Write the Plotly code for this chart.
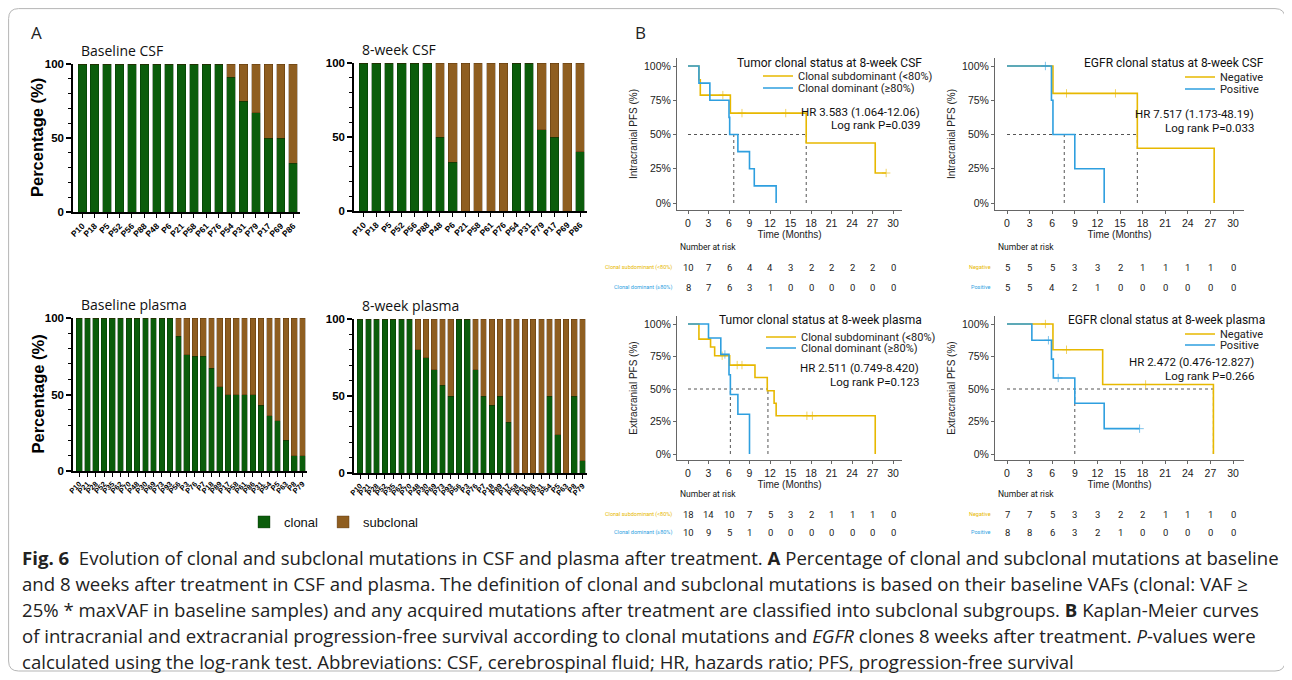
import plotly.graph_objects as go

W, H = 1292, 680
OFF = 8  # the page body margin shifts the figure by 8 px; coordinates below are screen pixels
def X(p): return (p - OFF) / W
def Y(p): return 1 - (p - OFF) / H

GREEN = "#0b5d0b"; BROWN = "#8f5e20"; GOLD = "#E7B800"; BLUE = "#2E9FDF"
NARROW = "Liberation Sans Narrow, Arial Narrow, Roboto, sans-serif"
SANS = "Liberation Sans, Arial, sans-serif"
CAP = "Open Sans, Noto Sans, sans-serif"

# ---------------- Panel A data ----------------
csf_patients = ["P10","P18","P5","P52","P56","P88","P48","P6","P21","P58","P61","P76","P54","P31","P79","P17","P69","P86"]
csf_base_clonal    = [100,100,100,100,100,100,100,100,100,100,100,100,91,75,67,50,50,33]
csf_base_subclonal = [0,0,0,0,0,0,0,0,0,0,0,0,9,25,33,50,50,67]
csf_wk8_clonal     = [100,100,100,100,100,100,50,33,0,0,0,0,100,100,55,50,0,40]
csf_wk8_subclonal  = [0,0,0,0,0,0,50,67,100,100,100,100,0,0,45,50,100,60]

plasma_patients = ["P10","P21","P28","P52","P35","P62","P70","P48","P30","P69","P73","P93","P56","P3",
                   "P76","P7","P18","P89","P17","P58","P61","P86","P31","P54","P5","P63","P8","P79"]
plasma_base_clonal    = [100,100,100,100,100,100,100,100,100,100,100,100,88,76,75,75,67,55,50,50,50,50,43,36,33,20,10,10]
plasma_base_subclonal = [0,0,0,0,0,0,0,0,0,0,0,0,12,24,25,25,33,45,50,50,50,50,57,64,67,80,90,90]
plasma_wk8_clonal     = [100,100,100,100,100,100,100,80,75,67,57,50,100,100,67,50,44,50,33,0,0,0,0,50,25,0,50,8]
plasma_wk8_subclonal  = [0,0,0,0,0,0,0,20,25,33,43,50,0,0,33,50,56,50,67,100,100,100,100,50,75,100,50,92]

# ---------------- Panel B data (step points) ----------------
km_ticks = [0,3,6,9,12,15,18,21,24,27,30]

# Top-left: tumor clonal status at 8-week CSF (intracranial)
tl_sub_t = [0,1.6,1.8,6.2,17.3,27.4,29.0]
tl_sub_s = [100,90,78.75,65.6,43.75,21.9,21.9]
tl_sub_ct = [5.1,7.9,14.3,29.0]; tl_sub_cs = [78.75,65.6,65.6,21.9]
tl_dom_t = [0,1.6,3.2,6.0,6.1,7.3,9.0,9.7,12.9]
tl_dom_s = [100,87.5,75,62.5,50,37.5,25,12.5,0]
tl_dom_ct = []; tl_dom_cs = []
tl_median = [6.7,17.3]
tl_risk_sub = [10,7,6,4,4,3,2,2,2,2,0]
tl_risk_dom = [8,7,6,3,1,0,0,0,0,0,0]

# Top-right: EGFR clonal status at 8-week CSF (intracranial)
tr_neg_t = [0,6.1,17.3,27.5]
tr_neg_s = [100,80,40,0]
tr_neg_ct = [7.9,14.4]; tr_neg_cs = [80,80]
tr_pos_t = [0,5.9,6.1,9.0,12.9]
tr_pos_s = [100,75,50,25,0]
tr_pos_ct = [5.1]; tr_pos_cs = [100]
tr_median = [7.6,17.3]
tr_risk_neg = [5,5,5,3,3,2,1,1,1,1,0]
tr_risk_pos = [5,5,4,2,1,0,0,0,0,0,0]

# Bottom-left: tumor clonal status at 8-week plasma (extracranial)
bl_sub_t = [0,1.6,3.3,3.9,6.1,9.8,11.6,12.6,12.9,27.4]
bl_sub_s = [100,88.4,82.3,75.6,68.4,58.8,48.6,39.0,29.4,0]
bl_sub_ct = [5.0,7.2,7.9,17.4,18.2]; bl_sub_cs = [75.6,68.4,68.4,29.4,29.4]
bl_dom_t = [0,3.0,4.8,6.0,6.2,7.3,9.0]
bl_dom_s = [100,89.2,76.6,61.0,45.8,30.6,0]
bl_dom_ct = [5.4]; bl_dom_cs = [76.6]
bl_median = [6.2,11.7]
bl_risk_sub = [18,14,10,7,5,3,2,1,1,1,0]
bl_risk_dom = [10,9,5,1,0,0,0,0,0,0,0]

# Bottom-right: EGFR clonal status at 8-week plasma (extracranial)
br_neg_t = [0,6.1,12.7,27.4]
br_neg_s = [100,80.2,53.5,0]
br_neg_ct = [5.1,7.9,18.4]; br_neg_cs = [100,80.2,53.5]
br_pos_t = [0,3.3,5.9,6.15,9.0,12.9,17.6]
br_pos_s = [100,87.5,73.0,58.5,39.0,19.5,19.5]
br_pos_ct = [5.5,6.8,17.6]; br_pos_cs = [87.5,58.5,19.5]
br_median = [9.0,27.4]
br_risk_neg = [7,7,5,3,3,2,2,1,1,1,0]
br_risk_pos = [8,8,6,3,2,1,0,0,0,0,0]

fig = go.Figure()
annotations = []

def note(text, x, y, size, color="#111", family=SANS, xanchor="center", yanchor="middle", xref="paper", **kw):
    annotations.append(dict(text=text, x=x, y=y, xref=xref, yref="paper", xanchor=xanchor, yanchor=yanchor,
                            showarrow=False, font=dict(family=family, size=size, color=color, **kw)))

# ---------------- Panel A bar charts ----------------
bar_panels = [
    (1, csf_patients, csf_base_clonal, csf_base_subclonal, 73, 300, 64, 212, "Baseline CSF", True),
    (2, csf_patients, csf_wk8_clonal, csf_wk8_subclonal, 354, 587, 63, 211, "8-week CSF", False),
    (3, plasma_patients, plasma_base_clonal, plasma_base_subclonal, 73, 307, 318, 471, "Baseline plasma", True),
    (4, plasma_patients, plasma_wk8_clonal, plasma_wk8_subclonal, 354, 587, 319, 473, "8-week plasma", False),
]
layout_axes = {}
for idx, cats, clo, sub, l, r, t, b, title, ytitle in bar_panels:
    xa = "x" if idx == 1 else f"x{idx}"
    ya = "y" if idx == 1 else f"y{idx}"
    fig.add_trace(go.Bar(x=cats, y=clo, xaxis=xa, yaxis=ya, name="clonal",
                         marker=dict(color=GREEN, line=dict(color="rgba(0,40,0,0.6)", width=0.6)),
                         showlegend=(idx == 1), legend="legend", width=0.68))
    fig.add_trace(go.Bar(x=cats, y=sub, xaxis=xa, yaxis=ya, name="subclonal",
                         marker=dict(color=BROWN, line=dict(color="rgba(60,30,0,0.5)", width=0.6)),
                         showlegend=(idx == 1), legend="legend", width=0.68))
    n = len(cats)
    layout_axes[f"xaxis{'' if idx==1 else idx}"] = dict(
        domain=[X(l), X(r)], anchor=ya, range=[-0.75, n - 0.45], type="category", automargin=False,
        tickmode="linear", dtick=1,
        showline=True, linecolor="black", linewidth=1.5, ticks="outside", ticklen=4, tickwidth=1.2, tickcolor="black",
        tickangle=-45, tickfont=dict(family=SANS, size=8.5 if n < 20 else 7.5, color="black", weight="bold"),
        showgrid=False, zeroline=False, fixedrange=True)
    layout_axes[f"yaxis{'' if idx==1 else idx}"] = dict(
        domain=[Y(b), Y(t)], anchor=xa, range=[0, 100], tickvals=[0, 50, 100], automargin=False,
        showline=True, linecolor="black", linewidth=1.5, ticks="outside", ticklen=5, tickwidth=1.5, tickcolor="black",
        minor=dict(dtick=10, ticks="outside", ticklen=3, tickwidth=1, tickcolor="black"),
        tickfont=dict(family=SANS, size=11.5, color="black", weight="bold"),
        showgrid=False, zeroline=False, fixedrange=True)
    note(title, X(l + 6), Y(t - 14), 14, color="#111", family=CAP, xanchor="left")
    if ytitle:
        annotations.append(dict(text="Percentage (%)", x=X(37), y=Y((t + b) / 2), xref="paper", yref="paper",
                                xanchor="center", yanchor="middle", textangle=-90, showarrow=False,
                                font=dict(family=SANS, size=16.5, color="black", weight="bold")))

# ---------------- Panel B KM plots ----------------
km_panels = [
    dict(idx=5, g1=("Clonal subdominant (<80%)", tl_sub_t, tl_sub_s, tl_sub_ct, tl_sub_cs, tl_risk_sub),
         g2=("Clonal dominant (≥80%)", tl_dom_t, tl_dom_s, tl_dom_ct, tl_dom_cs, tl_risk_dom),
         med=tl_median, ax=(677, 688, 893, 902), ay=(66, 203, 58, 210),
         title="Tumor clonal status at 8-week CSF", tpos=(829, 63), ytitle="Intracranial PFS (%)",
         leg=(758, 76, 88), hr=("HR 3.583 (1.064-12.06)", "Log rank P=0.039"), hrpos=(922, 112, 125),
         risk=(247, 267, 287), rlab=674),
    dict(idx=6, g1=("Negative", tr_neg_t, tr_neg_s, tr_neg_ct, tr_neg_cs, tr_risk_neg),
         g2=("Positive", tr_pos_t, tr_pos_s, tr_pos_ct, tr_pos_cs, tr_risk_pos),
         med=tr_median, ax=(995, 1007, 1233, 1244), ay=(66, 203, 58, 210),
         title="EGFR clonal status at 8-week CSF", tpos=(1174, 63), ytitle="Intracranial PFS (%)",
         leg=(1180, 77, 89), hr=("HR 7.517 (1.173-48.19)", "Log rank P=0.033"), hrpos=(1256, 114, 128),
         risk=(247, 267, 287), rlab=993),
    dict(idx=7, g1=("Clonal subdominant (<80%)", bl_sub_t, bl_sub_s, bl_sub_ct, bl_sub_cs, bl_risk_sub),
         g2=("Clonal dominant (≥80%)", bl_dom_t, bl_dom_s, bl_dom_ct, bl_dom_cs, bl_risk_dom),
         med=bl_median, ax=(677, 688, 893, 902), ay=(324, 454, 316, 460),
         title="Tumor clonal status at 8-week plasma", tpos=(820, 320), ytitle="Extracranial PFS (%)",
         leg=(761, 337, 348), hr=("HR 2.511 (0.749-8.420)", "Log rank P=0.123"), hrpos=(921, 368, 382),
         risk=(494, 514, 532), rlab=674),
    dict(idx=8, g1=("Negative", br_neg_t, br_neg_s, br_neg_ct, br_neg_cs, br_risk_neg),
         g2=("Positive", br_pos_t, br_pos_s, br_pos_ct, br_pos_cs, br_risk_pos),
         med=br_median, ax=(995, 1007, 1233, 1244), ay=(324, 454, 316, 460),
         title="EGFR clonal status at 8-week plasma", tpos=(1166, 320), ytitle="Extracranial PFS (%)",
         leg=(1180, 334, 345), hr=("HR 2.472 (0.476-12.827)", "Log rank P=0.266"), hrpos=(1256, 362, 376),
         risk=(494, 514, 532), rlab=993),
]

for p in km_panels:
    idx = p["idx"]; xa = f"x{idx}"; ya = f"y{idx}"
    lgs = (f"legend{2 * (idx - 5) + 2}", f"legend{2 * (idx - 5) + 3}")
    lline, x0, x30, rline = p["ax"]
    y100, y0, top, bot = p["ay"]
    pxm = (x30 - x0) / 30.0; pyp = (y0 - y100) / 100.0
    xr = [-(x0 - lline) / pxm, 30 + (rline - x30) / pxm]
    yr = [-(bot - y0) / pyp, 100 + (y100 - top) / pyp]
    mx, my = [0, max(p["med"])], [50, 50]
    for m in p["med"]:
        mx += [None, m, m]; my += [None, 0, 50]
    fig.add_trace(go.Scatter(x=mx, y=my, xaxis=xa, yaxis=ya, mode="lines", showlegend=False, hoverinfo="skip",
                             line=dict(color="#555", width=1, dash="dot")))
    for (name, tt, ss, ct, cs, rk), col, lg, ly in ((p["g1"], GOLD, lgs[0], p["leg"][1]), (p["g2"], BLUE, lgs[1], p["leg"][2])):
        fig.add_trace(go.Scatter(x=tt, y=ss, xaxis=xa, yaxis=ya, mode="lines", line=dict(color=col, width=1.6, shape="hv"),
                                 name=name, legend=lg))
        if ct:
            fig.add_trace(go.Scatter(x=ct, y=cs, xaxis=xa, yaxis=ya, mode="markers", showlegend=False,
                                     marker=dict(symbol="cross-thin", size=6, line=dict(color=col, width=1), color=col, opacity=0.6)))
        layout_axes[lg] = dict(x=X(p["leg"][0]), y=Y(ly), xanchor="left", yanchor="middle",
                               bgcolor="rgba(0,0,0,0)", font=dict(family=NARROW, size=11, color="#222"))
    layout_axes[f"xaxis{idx}"] = dict(domain=[X(lline), X(rline)], anchor=ya, range=xr, tickvals=km_ticks, automargin=False,
        showline=True, linecolor="#666", linewidth=1, ticks="outside", ticklen=3, tickcolor="#666",
        tickfont=dict(family=SANS, size=10.5, color="#222"), showgrid=False, zeroline=False,
        title=dict(text="Time (Months)", font=dict(family=SANS, size=10, color="#222"), standoff=1))
    layout_axes[f"yaxis{idx}"] = dict(domain=[Y(bot), Y(top)], anchor=xa, range=yr, tickvals=[0, 25, 50, 75, 100],
        ticktext=["0%", "25%", "50%", "75%", "100%"], automargin=False,
        showline=True, linecolor="#666", linewidth=1, ticks="outside", ticklen=3, tickcolor="#666",
        tickfont=dict(family=SANS, size=10.5, color="#222"), showgrid=False, zeroline=False,
        title=dict(text=p["ytitle"], font=dict(family=SANS, size=10, color="#222"), standoff=4))
    note(p["title"], X(p["tpos"][0]), Y(p["tpos"][1]), 12, family=NARROW)
    hx, hy1, hy2 = p["hrpos"]
    note(p["hr"][0], X(hx), Y(hy1), 11.5, family=NARROW, xanchor="right")
    note(p["hr"][1], X(hx), Y(hy2), 11.5, family=NARROW, xanchor="right")
    ry0, ry1, ry2 = p["risk"]
    note("Number at risk", X(lline + 1), Y(ry0), 8.5, family=NARROW, xanchor="left")
    for (name, tt, ss, ct, cs, rk), col, ry in ((p["g1"], GOLD, ry1), (p["g2"], BLUE, ry2)):
        note(name, X(p["rlab"]), Y(ry), 5.5, color=col, family=NARROW, xanchor="right")
        for tv, nv in zip(km_ticks, rk):
            note(str(nv), tv, Y(ry), 9.5, color="#222", family=NARROW, xref=xa)

# ---------------- Labels and caption ----------------
note("A", X(29), Y(33), 17, color="#222", family=CAP, xanchor="left")
note("B", X(633), Y(33), 17, color="#222", family=CAP, xanchor="left")

caption = [
    "<b>Fig. 6</b>  Evolution of clonal and subclonal mutations in CSF and plasma after treatment. <b>A</b> Percentage of clonal and subclonal mutations at baseline",
    "and 8 weeks after treatment in CSF and plasma. The definition of clonal and subclonal mutations is based on their baseline VAFs (clonal: VAF ≥",
    "25% * maxVAF in baseline samples) and any acquired mutations after treatment are classified into subclonal subgroups. <b>B</b> Kaplan-Meier curves",
    "of intracranial and extracranial progression-free survival according to clonal mutations and <i>EGFR</i> clones 8 weeks after treatment. <i>P</i>-values were",
    "calculated using the log-rank test. Abbreviations: CSF, cerebrospinal fluid; HR, hazards ratio; PFS, progression-free survival",
]
cap_y = [557, 583, 609, 635, 661]
for line, cy in zip(caption, cap_y):
    note(line, X(20), Y(cy), 18.6, color="#222", family=CAP, xanchor="left")

def frame_path(x0, y0, x1, y1, r):
    return (f"M {X(x0+r)},{Y(y0)} L {X(x1-r)},{Y(y0)} Q {X(x1)},{Y(y0)} {X(x1)},{Y(y0+r)} "
            f"L {X(x1)},{Y(y1-r)} Q {X(x1)},{Y(y1)} {X(x1-r)},{Y(y1)} L {X(x0+r)},{Y(y1)} "
            f"Q {X(x0)},{Y(y1)} {X(x0)},{Y(y1-r)} L {X(x0)},{Y(y0+r)} Q {X(x0)},{Y(y0)} {X(x0+r)},{Y(y0)} Z")

fig.update_layout(
    template="none",
    width=W, height=H, margin=dict(l=0, r=0, t=0, b=0, pad=0, autoexpand=False),
    paper_bgcolor="white", plot_bgcolor="white", barmode="stack", bargap=0.32,
    font=dict(family=SANS, color="#222"),
    legend=dict(orientation="h", x=X(244), y=Y(522), xanchor="left", yanchor="middle", bgcolor="rgba(0,0,0,0)",
                traceorder="normal", font=dict(family=SANS, size=13, color="#111")),
    annotations=annotations,
    shapes=[dict(type="path", path=frame_path(8.6, 8.6, 1285, 671, 10), xref="paper", yref="paper",
                 line=dict(color="#b5b5b5", width=1))],
    **layout_axes,
)
fig.write_html("out.html")
